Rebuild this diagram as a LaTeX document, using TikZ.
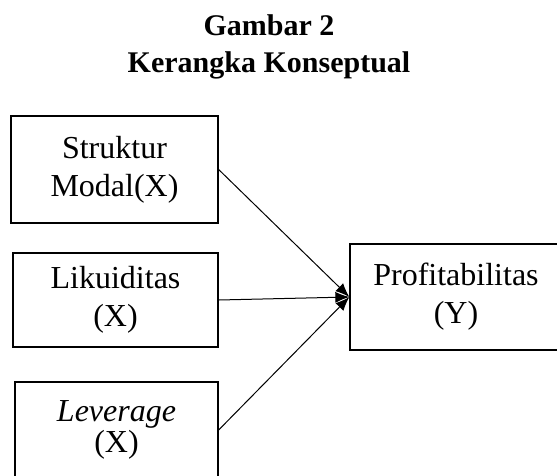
\documentclass[tikz,border=0pt]{standalone}
\usepackage{fontspec}
\setmainfont{Liberation Serif}
\usetikzlibrary{arrows.meta}
\tikzset{
  varbox/.style={draw,rectangle,line width=1.3pt,align=center,inner sep=0pt,
    font=\fontsize{32}{38}\selectfont},
  judul/.style={align=center,inner sep=0pt,font=\fontsize{30}{37}\selectfont\bfseries}
}

\begin{document}
\begin{tikzpicture}[x=1pt,y=-1pt,>={Latex[length=14pt,width=11pt]}]
  \useasboundingbox (0,0) rectangle (557,475);
  \clip (0,0) rectangle (557,475);
  \node[judul,anchor=base] (judul) at (269,72) {Gambar 2\\Kerangka Konseptual};
  \node[varbox,minimum width=207pt,minimum height=107pt] (struktur) at (114.5,169.5) {Struktur\\Modal(X)};
  \node[varbox,minimum width=205pt,minimum height=94pt] (likuid) at (115.5,300) {Likuiditas\\(X)};
  \node[varbox,minimum width=203pt,minimum height=96pt,font=\fontsize{32}{31}\selectfont] (leverage) at (116.5,430) {\textit{Leverage}\\(X)};
  \node[varbox,minimum width=212pt,minimum height=106pt] (profit) at (456,297) {Profitabilitas\\(Y)};
  \draw[->,line width=1pt] (struktur.east) -- (profit.west);
  \draw[->,line width=1pt] (likuid.east) -- (profit.west);
  \draw[->,line width=1pt] (leverage.east) -- (profit.west);
\end{tikzpicture}
\end{document}
